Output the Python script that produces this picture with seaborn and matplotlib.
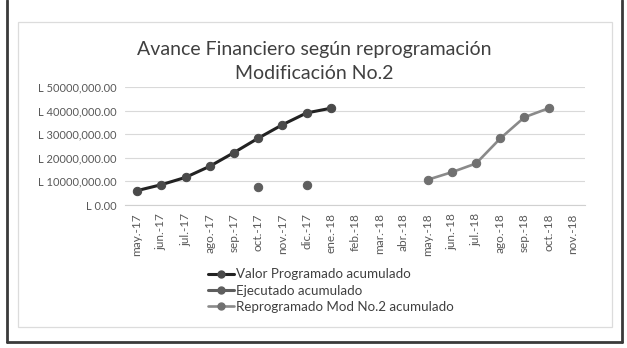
import numpy as np
import pandas as pd
import matplotlib
matplotlib.use("Agg")
import matplotlib.pyplot as plt
import seaborn as sns
from matplotlib.patches import Rectangle
from matplotlib.lines import Line2D

nan = np.nan

meses = ["may.-17", "jun.-17", "jul.-17", "ago.-17", "sep.-17", "oct.-17",
         "nov.-17", "dic.-17", "ene.-18", "feb.-18", "mar.-18", "abr.-18",
         "may.-18", "jun.-18", "jul.-18", "ago.-18", "sep.-18", "oct.-18",
         "nov.-18"]

valor_programado = [6.1e6, 8.6e6, 11.7e6, 16.4e6, 22.2e6, 28.3e6, 34.0e6,
                    39.0e6, 41.0e6, nan, nan, nan, nan, nan, nan, nan, nan,
                    nan, nan]
ejecutado = [nan, nan, nan, nan, nan, 7.6e6, nan, 8.3e6, nan, nan, nan, nan,
             nan, nan, nan, nan, nan, nan, nan]
reprogramado = [nan, nan, nan, nan, nan, nan, nan, nan, nan, nan, nan, nan,
                10.7e6, 13.9e6, 17.6e6, 28.2e6, 37.2e6, 41.0e6, nan]

y_ticks = [0, 10e6, 20e6, 30e6, 40e6, 50e6]
y_labels = ["L 0.00", "L 10000,000.00", "L 20000,000.00", "L 30000,000.00",
            "L 40000,000.00", "L 50000,000.00"]

series = [
    ("Valor Programado acumulado", valor_programado, "#222222", "#4a4a4a", 2.2),
    ("Ejecutado acumulado", ejecutado, "#5e5e5e", "#5e5e5e", 2.2),
    ("Reprogramado Mod No.2 acumulado", reprogramado, "#8a8a8a", "#707070", 1.9),
]


def tramos(valores):
    """Split a series into contiguous runs so gaps stay open, like Excel."""
    filas = []
    seg = 0
    previo = False
    for i, v in enumerate(valores):
        if np.isnan(v):
            if previo:
                seg += 1
            previo = False
            continue
        filas.append({"pos": i, "valor": v, "tramo": seg})
        previo = True
    return pd.DataFrame(filas)


sns.set_theme(style="white")
plt.rcParams["font.family"] = ["Lato", "DejaVu Sans"]

fig = plt.figure(figsize=(6.27, 3.48), dpi=100)
fig.patch.set_facecolor("white")
ax = fig.add_axes([125 / 627, 1 - 205 / 348, 460 / 627, 118 / 348])

handles = []
for nombre, valores, c_linea, c_marca, grosor in series:
    df = tramos(valores)
    sns.lineplot(data=df, x="pos", y="valor", units="tramo", estimator=None,
                 color=c_linea, linewidth=grosor, marker="o", markersize=6,
                 markerfacecolor=c_marca, markeredgecolor=c_marca,
                 legend=False, ax=ax, zorder=3)
    handles.append(Line2D([], [], color=c_linea, linewidth=grosor, marker="o",
                          markersize=5, markerfacecolor=c_marca,
                          markeredgecolor=c_marca, label=nombre))

ax.set_xlim(-0.5, len(meses) - 0.5)
ax.set_ylim(0, 50e6)
ax.set_xticks(range(len(meses)))
ax.set_xticklabels(meses, rotation=90, fontsize=8.5, color="#595959")
ax.set_yticks(y_ticks)
ax.set_yticklabels(y_labels, fontsize=8, color="#595959")
ax.tick_params(axis="both", length=0, pad=6)
ax.set_xlabel("")
ax.set_ylabel("")
ax.grid(axis="y", color="#d9d9d9", linewidth=0.8)
ax.set_axisbelow(True)
for lado in ["top", "right", "left"]:
    ax.spines[lado].set_visible(False)
ax.spines["bottom"].set_color("#d0d0d0")
ax.spines["bottom"].set_linewidth(0.8)

fig.text(314 / 627, 1 - 61.5 / 348,
         "Avance Financiero según reprogramación\nModificación No.2",
         ha="center", va="center", fontsize=14, color="#404040",
         linespacing=1.55)

fig.legend(handles=handles, loc="upper left",
           bbox_to_anchor=(203 / 627, 1 - 263 / 348), frameon=False,
           fontsize=9.6, handlelength=1.9, handletextpad=0.15,
           labelspacing=0.33, labelcolor="#404040", borderaxespad=0)

# chart area border and the surrounding frame
fig.add_artist(Rectangle((18 / 627, 1 - 327 / 348), 594 / 627, 305 / 348,
                         transform=fig.transFigure, fill=False,
                         edgecolor="#dcdcdc", linewidth=0.9))
for x0 in (7 / 627, 622 / 627):
    fig.add_artist(Line2D([x0, x0], [1 - 342 / 348, 1.0],
                          transform=fig.transFigure, color="#3a3a3a",
                          linewidth=2))
fig.add_artist(Line2D([7 / 627, 622 / 627], [1 - 342 / 348, 1 - 342 / 348],
                      transform=fig.transFigure, color="#3a3a3a",
                      linewidth=2))

fig.savefig("out.png", dpi=100)
